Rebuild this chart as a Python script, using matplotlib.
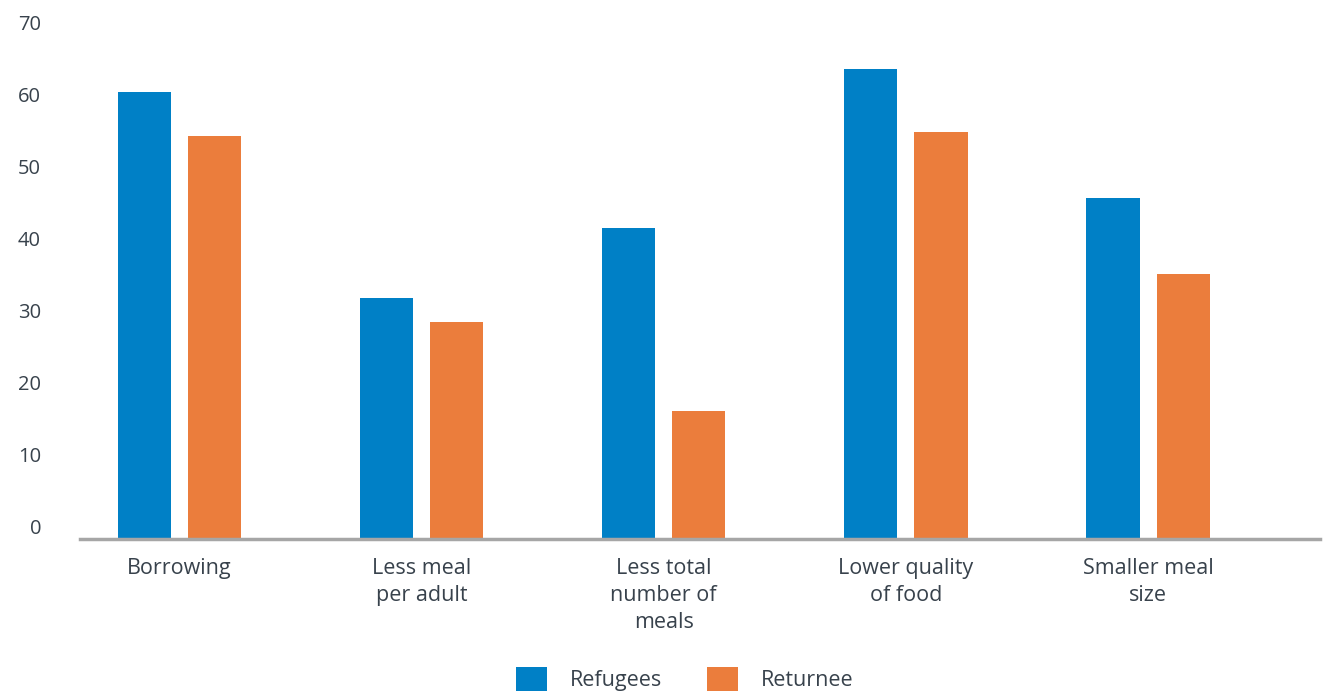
import matplotlib.pyplot as plt
import matplotlib.transforms as mtransforms
import numpy as np

# Dados
categorias = ["Borrowing", "Less meal\nper adult", "Less total\nnumber of\nmeals",
              "Lower quality\nof food", "Smaller meal\nsize"]
refugees = [62.0, 33.4, 43.1, 65.2, 47.3]
returnee = [55.8, 30.1, 17.8, 56.4, 36.8]
series_nomes = ["Refugees", "Returnee"]
yticks = [0, 10, 20, 30, 40, 50, 60, 70]

cor_azul = "#0080C6"
cor_laranja = "#EB7D3C"
cor_texto = "#38424C"

plt.rcParams["font.family"] = ["Open Sans", "DejaVu Sans"]

fig = plt.figure(figsize=(13.26, 6.95), dpi=100)
ax = fig.add_axes([80 / 1326, 1 - 539 / 695, 1240 / 1326, 505 / 695])

x = np.arange(len(categorias))
largura = 0.22
desloc = 0.145
ax.bar(x - desloc, refugees, largura, color=cor_azul, label=series_nomes[0], zorder=2)
ax.bar(x + desloc, returnee, largura, color=cor_laranja, label=series_nomes[1], zorder=2)

ax.set_xlim(-0.41, 4.71)
ax.set_ylim(0, 70)
ax.set_xticks(x)
ax.set_xticklabels(categorias, fontsize=15.5, color=cor_texto, linespacing=1.36, va="top")
ax.set_yticks(yticks)
ax.set_yticklabels([str(v) for v in yticks], fontsize=14.5, color=cor_texto)
ax.tick_params(axis="both", length=0)
ax.tick_params(axis="y", pad=28)
ax.tick_params(axis="x", pad=14)

# rotulos do eixo y ficam um pouco acima da linha
desl = mtransforms.ScaledTranslation(0, 12 / 100, fig.dpi_scale_trans)
for lbl in ax.get_yticklabels():
    lbl.set_transform(lbl.get_transform() + desl)

for lado in ["top", "right", "left"]:
    ax.spines[lado].set_visible(False)
ax.spines["bottom"].set_color("#A6A6A6")
ax.spines["bottom"].set_linewidth(2.5)
ax.spines["bottom"].set_zorder(3)

fig.legend(loc="upper left", bbox_to_anchor=(516 / 1326, 1 - 667 / 695),
           ncol=2, frameon=False, fontsize=15.5, borderpad=0, borderaxespad=0,
           handlelength=1.45, handleheight=1.35, handletextpad=1.05,
           columnspacing=2.1, labelcolor=cor_texto)

fig.savefig("out.png", dpi=100)
